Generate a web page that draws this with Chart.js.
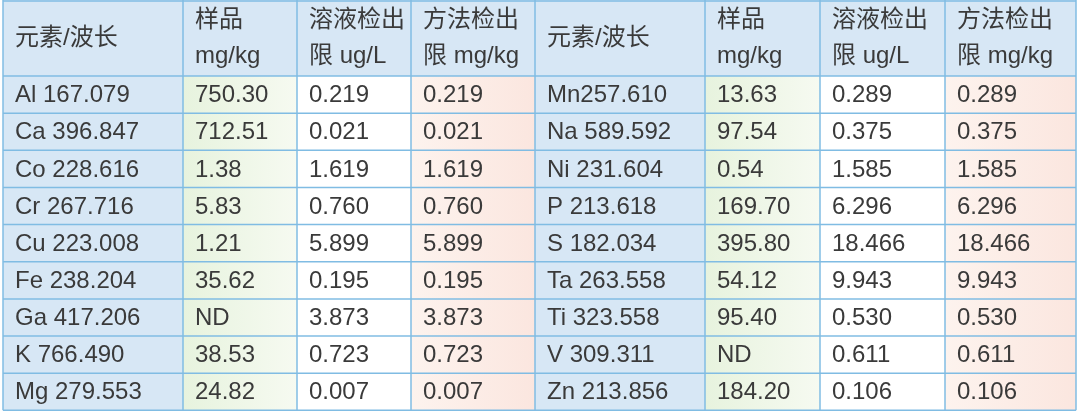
<!DOCTYPE html>
<html>
<head>
<meta charset="utf-8">
<script src="https://cdn.jsdelivr.net/npm/chart.js@4"></script>
<style>
  html, body { margin: 0; padding: 0; background: #fff; }
</style>
</head>
<body>
<canvas id="tbl" width="1080" height="411"></canvas>
<script>
const headers = [
  ['元素/波长'], ['样品', 'mg/kg'], ['溶液检出', '限 ug/L'], ['方法检出', '限 mg/kg'],
  ['元素/波长'], ['样品', 'mg/kg'], ['溶液检出', '限 ug/L'], ['方法检出', '限 mg/kg']
];
const elementsLeft = ['Al 167.079', 'Ca 396.847', 'Co 228.616', 'Cr 267.716', 'Cu 223.008', 'Fe 238.204', 'Ga 417.206', 'K 766.490', 'Mg 279.553'];
const sampleLeft = ['750.30', '712.51', '1.38', '5.83', '1.21', '35.62', 'ND', '38.53', '24.82'];
const solutionLeft = ['0.219', '0.021', '1.619', '0.760', '5.899', '0.195', '3.873', '0.723', '0.007'];
const methodLeft = ['0.219', '0.021', '1.619', '0.760', '5.899', '0.195', '3.873', '0.723', '0.007'];
const elementsRight = ['Mn257.610', 'Na 589.592', 'Ni 231.604', 'P 213.618', 'S 182.034', 'Ta 263.558', 'Ti 323.558', 'V 309.311', 'Zn 213.856'];
const sampleRight = ['13.63', '97.54', '0.54', '169.70', '395.80', '54.12', '95.40', 'ND', '184.20'];
const solutionRight = ['0.289', '0.375', '1.585', '6.296', '18.466', '9.943', '0.530', '0.611', '0.106'];
const methodRight = ['0.289', '0.375', '1.585', '6.296', '18.466', '9.943', '0.530', '0.611', '0.106'];

const columns = [elementsLeft, sampleLeft, solutionLeft, methodLeft, elementsRight, sampleRight, solutionRight, methodRight];
const colEdges = [3, 183, 297, 411, 535, 705, 820, 945, 1076]; // in x-scale units
const headerRows = 2.05; // header height in row units
const colKinds = ['name', 'sample', 'plain', 'method', 'name', 'sample', 'plain', 'method'];

const font = '"Liberation Sans", "Noto Sans CJK SC", sans-serif';

const tablePlugin = {
  id: 'table',
  afterDraw(chart) {
    const ctx = chart.ctx;
    const xs = chart.scales.x, ys = chart.scales.y;
    const nRows = elementsLeft.length;
    const yTop = ys.getPixelForValue(0);
    const yHead = ys.getPixelForValue(headerRows);
    ctx.save();
    // header band
    ctx.fillStyle = '#d7e7f5';
    ctx.fillRect(xs.getPixelForValue(colEdges[0]), yTop, xs.getPixelForValue(colEdges[8]) - xs.getPixelForValue(colEdges[0]), yHead - yTop);
    // body cells
    columns.forEach((col, c) => {
      const x0 = xs.getPixelForValue(colEdges[c]);
      const x1 = xs.getPixelForValue(colEdges[c + 1]);
      const y0 = yHead;
      const y1 = ys.getPixelForValue(headerRows + nRows);
      let fill;
      if (colKinds[c] === 'name') fill = '#d7e7f5';
      else if (colKinds[c] === 'sample') {
        fill = ctx.createLinearGradient(x0, 0, x1, 0);
        fill.addColorStop(0, '#e7f3de');
        fill.addColorStop(1, '#f6faf1');
      } else if (colKinds[c] === 'method') {
        fill = ctx.createLinearGradient(x0, 0, x1, 0);
        fill.addColorStop(0, '#fdf3ee');
        fill.addColorStop(1, '#fbe6df');
      } else fill = '#ffffff';
      ctx.fillStyle = fill;
      ctx.fillRect(x0, y0, x1 - x0, y1 - y0);
    });
    // grid lines
    ctx.strokeStyle = '#80bce3';
    ctx.lineWidth = 1.5;
    const left = xs.getPixelForValue(colEdges[0]);
    const right = xs.getPixelForValue(colEdges[8]);
    for (let r = 0; r <= nRows; r++) {
      const y = ys.getPixelForValue(headerRows + r);
      ctx.beginPath(); ctx.moveTo(left, y); ctx.lineTo(right, y); ctx.stroke();
    }
    ctx.beginPath(); ctx.moveTo(left, yTop + 1); ctx.lineTo(right, yTop + 1); ctx.stroke();
    const bottom = ys.getPixelForValue(headerRows + nRows);
    colEdges.forEach(e => {
      const x = xs.getPixelForValue(e);
      ctx.beginPath(); ctx.moveTo(x, yTop); ctx.lineTo(x, bottom); ctx.stroke();
    });
    // text
    ctx.fillStyle = '#3a3a3a';
    ctx.font = '24px ' + font;
    ctx.textBaseline = 'middle';
    ctx.textAlign = 'left';
    headers.forEach((h, c) => {
      const x = xs.getPixelForValue(colEdges[c]) + 12;
      if (h.length === 1) {
        ctx.fillText(h[0], x, (yTop + yHead) / 2);
      } else {
        ctx.fillText(h[0], x, ys.getPixelForValue(headerRows * 0.27));
        ctx.fillText(h[1], x, ys.getPixelForValue(headerRows * 0.74));
      }
    });
    columns.forEach((col, c) => {
      const x = xs.getPixelForValue(colEdges[c]) + 12;
      col.forEach((v, r) => {
        ctx.fillText(v, x, ys.getPixelForValue(headerRows + r + 0.5) + 1);
      });
    });
    ctx.restore();
  }
};

new Chart(document.getElementById('tbl'), {
  type: 'scatter',
  data: { datasets: [{ data: [] }] },
  options: {
    responsive: false,
    animation: false,
    layout: { padding: 0 },
    plugins: { legend: { display: false }, tooltip: { enabled: false } },
    scales: {
      x: { type: 'linear', min: 0, max: 1080, display: false },
      y: { type: 'linear', min: 0, max: headerRows + elementsLeft.length + 0.02, reverse: true, display: false }
    }
  },
  plugins: [tablePlugin]
});
</script>
</body>
</html>
